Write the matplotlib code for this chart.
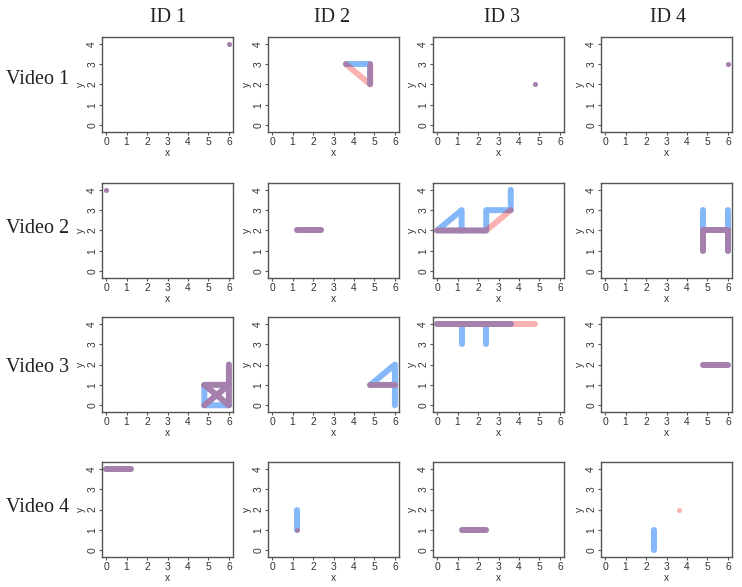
import matplotlib
matplotlib.use("Agg")
import matplotlib.pyplot as plt
import numpy as np

videos = ["Video 1", "Video 2", "Video 3", "Video 4"]
ids = ["ID 1", "ID 2", "ID 3", "ID 4"]
x_ticks = [0, 1, 2, 3, 4, 5, 6]
y_ticks = [0, 1, 2, 3, 4]

# Paths of the first person (blue) per (video, id); each path is a list of (x, y)
blue_paths = {
    (0, 0): [[(6.0, 4)]],
    (0, 1): [[(3.6, 3), (4.8, 3), (4.8, 2)]],
    (0, 2): [[(4.8, 2)]],
    (0, 3): [[(6.0, 3)]],
    (1, 0): [[(0.0, 4)]],
    (1, 1): [[(1.2, 2), (2.4, 2)]],
    (1, 2): [[(1.2, 2), (0.0, 2), (1.2, 3), (1.2, 2), (2.4, 2), (2.4, 3), (3.6, 3), (3.6, 4)]],
    (1, 3): [[(4.8, 3), (4.8, 1)], [(6.0, 3), (6.0, 1)], [(4.8, 2), (6.0, 2)]],
    (2, 0): [[(6.0, 2), (6.0, 0), (4.8, 0), (4.8, 1), (6.0, 1)],
             [(4.8, 0), (6.0, 1)], [(4.8, 1), (6.0, 0)]],
    (2, 1): [[(4.8, 1), (6.0, 2), (6.0, 0)], [(4.8, 1), (6.0, 1)]],
    (2, 2): [[(0.0, 4), (3.6, 4)], [(1.2, 4), (1.2, 3)], [(2.4, 4), (2.4, 3)]],
    (2, 3): [[(4.8, 2), (6.0, 2)]],
    (3, 0): [[(0.0, 4), (1.2, 4)]],
    (3, 1): [[(1.2, 1), (1.2, 2)]],
    (3, 2): [[(1.2, 1), (2.4, 1)]],
    (3, 3): [[(2.4, 0), (2.4, 1)]],
}

# Paths of the second person (pink)
pink_paths = {
    (0, 0): [[(6.0, 4)]],
    (0, 1): [[(3.6, 3), (4.8, 2), (4.8, 3)]],
    (0, 2): [[(4.8, 2)]],
    (0, 3): [[(6.0, 3)]],
    (1, 0): [[(0.0, 4)]],
    (1, 1): [[(1.2, 2), (2.4, 2)]],
    (1, 2): [[(0.0, 2), (2.4, 2), (3.6, 3)]],
    (1, 3): [[(4.8, 1), (4.8, 2), (6.0, 2), (6.0, 1)]],
    (2, 0): [[(4.8, 0), (6.0, 1)], [(4.8, 1), (6.0, 0), (6.0, 2)], [(4.8, 1), (6.0, 1)]],
    (2, 1): [[(4.8, 1), (6.0, 1)]],
    (2, 2): [[(0.0, 4), (4.8, 4)]],
    (2, 3): [[(4.8, 2), (6.0, 2)]],
    (3, 0): [[(0.0, 4), (1.2, 4)]],
    (3, 1): [[(1.2, 1)]],
    (3, 2): [[(1.2, 1), (2.4, 1)]],
    (3, 3): [[(3.6, 2)]],
}

BLUE = "#84b8f8"
PINK = "#ef0505"
PINK_ALPHA = 0.31
LW = 4.3

W, H = 742, 587
fig = plt.figure(figsize=(W / 100, H / 100), dpi=100)
fig.patch.set_facecolor("white")

col_left = [102, 268, 433, 601]
row_top = [37, 183, 317, 462]
pw, ph = 131, 95

serif = ["Liberation Serif", "DejaVu Serif"]
sans = ["Liberation Sans", "DejaVu Sans"]
spine_col = "#555555"
text_col = "#333333"
FS = 7.4


def draw(ax, paths, color, alpha):
    # all multi-point paths in one stroke so that alpha does not pile up
    xs, ys = [], []
    for p in paths:
        if len(p) == 1:
            ax.plot([p[0][0]], [p[0][1]], linestyle="none", marker="o", markersize=3.6,
                    color=color, alpha=alpha, markeredgewidth=0)
        else:
            xs += [q[0] for q in p] + [np.nan]
            ys += [q[1] for q in p] + [np.nan]
    if xs:
        ax.plot(xs, ys, color=color, alpha=alpha, linewidth=LW,
                solid_capstyle="round", solid_joinstyle="round")


for r in range(4):
    for c in range(4):
        ax = fig.add_axes([col_left[c] / W, 1 - (row_top[r] + ph) / H, pw / W, ph / H])
        draw(ax, blue_paths.get((r, c), []), BLUE, 1.0)
        draw(ax, pink_paths.get((r, c), []), PINK, PINK_ALPHA)
        ax.set_xlim(-0.2, 6.2)
        ax.set_ylim(-0.33, 4.33)
        ax.set_xticks(x_ticks)
        ax.set_yticks(y_ticks)
        ax.set_xticklabels([str(v) for v in x_ticks], fontsize=FS, family=sans, color=text_col)
        ax.set_yticklabels([str(v) for v in y_ticks], fontsize=FS, family=sans, color=text_col,
                           rotation=90, va="center")
        ax.tick_params(length=2.5, width=0.8, color=spine_col, pad=1)
        for s in ax.spines.values():
            s.set_color(spine_col)
            s.set_linewidth(1.0)
        ax.set_xlabel("x", fontsize=FS, family=sans, color=text_col, labelpad=0.5)
        ax.set_ylabel("y", fontsize=FS, family=sans, color=text_col, labelpad=0.5)

col_center = [168, 332, 502, 668]
for c in range(4):
    fig.text(col_center[c] / W, 1 - 18 / H, ids[c], ha="center", va="center",
             fontsize=14.5, family=serif, color="#222222")
row_center = [80, 228, 368, 508]
for r in range(4):
    fig.text(38 / W, 1 - row_center[r] / H, videos[r], ha="center", va="center",
             fontsize=14.5, family=serif, color="#222222")

fig.savefig("out.png", dpi=100, facecolor="white")
